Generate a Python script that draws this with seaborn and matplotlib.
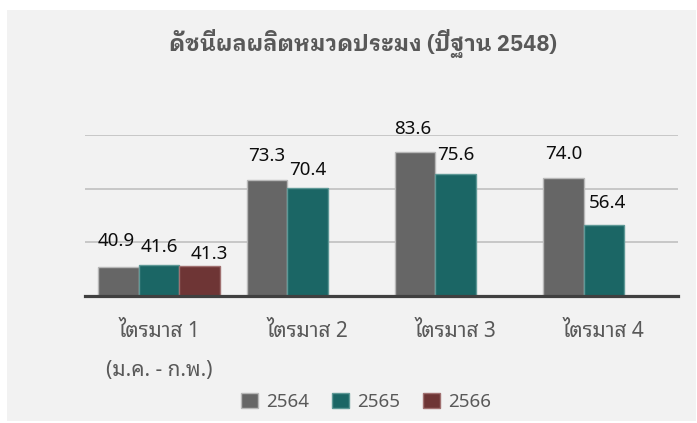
import matplotlib
matplotlib.use("Agg")
import matplotlib.pyplot as plt
from matplotlib.patches import Rectangle
import seaborn as sns
import pandas as pd
import numpy as np

# ---- data ----
quarters = ["ไตรมาส 1", "ไตรมาส 2", "ไตรมาส 3", "ไตรมาส 4"]
q1_note = "(ม.ค. - ก.พ.)"
years = ["2564", "2565", "2566"]
v2564 = [40.9, 73.3, 83.6, 74.0]
v2565 = [41.6, 70.4, 75.6, 56.4]
v2566 = [41.3, None, None, None]
title = "ดัชนีผลผลิตหมวดประมง (ปีฐาน 2548)"

# ---- style ----
colors = {"2564": "#666666", "2565": "#1b6665", "2566": "#6e3535"}
edge_colors = {"2564": "#b8b8b8", "2565": "#5e9896", "2566": "#a07070"}
# label offsets (pixels) relative to the top-center of each bar
label_offsets = {
    ("2564", 0): (-2, 26), ("2565", 0): (0, 18), ("2566", 0): (10, 12),
    ("2564", 1): (0, 24), ("2565", 1): (0, 18),
    ("2564", 2): (-2, 23), ("2565", 2): (0, 19),
    ("2564", 3): (0, 24), ("2565", 3): (4, 22),
}

rows = []
for y, vals in zip(years, [v2564, v2565, v2566]):
    for q, v in zip(quarters, vals):
        rows.append({"quarter": q, "year": y, "value": np.nan if v is None else v})
df = pd.DataFrame(rows)

sns.set_theme(style="white")
plt.rcParams["font.family"] = ["Noto Sans Thai Looped", "Noto Sans", "DejaVu Sans"]

W, H = 697, 423
fig = plt.figure(figsize=(W / 100, H / 100), dpi=100, facecolor="white")
fig.patches.append(Rectangle((7 / W, 1 - 421 / H), (696 - 7) / W, (421 - 10) / H,
                             transform=fig.transFigure, facecolor="#f2f2f2",
                             edgecolor="none", zorder=-10))

ax = fig.add_axes([85 / W, 1 - 296 / H, (678 - 85) / W, (296 - 135) / H])
ax.set_facecolor("none")

sns.barplot(data=df, x="quarter", y="value", hue="year", order=quarters,
            hue_order=years, palette=colors, saturation=1, width=0.82, ax=ax,
            linewidth=1.0, zorder=3)

for cont, yr in zip(ax.containers, years):
    for bar in cont:
        if np.isnan(bar.get_height()):
            continue
        bar.set_edgecolor(edge_colors[yr])
        bar.set_zorder(3)

ax.set_ylim(30, 90)
ax.set_yticks([30, 50, 70, 90])
ax.set_yticklabels([])
ax.yaxis.grid(True, color="#c4c4c4", linewidth=1.3, zorder=0)
ax.set_axisbelow(True)
for s in ["left", "right", "top"]:
    ax.spines[s].set_visible(False)
ax.spines["bottom"].set_color("#404040")
ax.spines["bottom"].set_linewidth(2.3)
ax.spines["bottom"].set_zorder(5)
ax.tick_params(axis="both", length=0)
ax.tick_params(axis="x", pad=18, labelsize=15, labelcolor="#595959")
ax.set_xlabel("")
ax.set_ylabel("")

# data labels
for cont, yr in zip(ax.containers, years):
    for bar in cont:
        h = bar.get_height()
        if np.isnan(h):
            continue
        xc = bar.get_x() + bar.get_width() / 2
        qi = int(round(xc))
        dx, dy = label_offsets.get((yr, qi), (0, 22))
        ax.annotate(f"{h:.1f}", (xc, h), xytext=(dx, dy), textcoords="offset pixels",
                    ha="center", va="center", fontsize=13.5, color="#0d0d0d")

# second line under quarter 1
ax.text(0, -0.46, q1_note, transform=ax.get_xaxis_transform(), ha="center",
        va="center", fontsize=15, color="#595959")

# legend
handles, labels = ax.get_legend_handles_labels()
ax.get_legend().remove()
leg = fig.legend(handles, labels, loc="center", bbox_to_anchor=(366 / W, 1 - 402 / H),
                 ncol=3, frameon=False, handlelength=0.9, handleheight=0.9,
                 handletextpad=0.45, columnspacing=1.2, fontsize=13.5)
for t in leg.get_texts():
    t.set_color("#595959")
for h, yr in zip(leg.legend_handles, years):
    h.set_edgecolor(edge_colors[yr])

fig.text(363 / W, 1 - 43 / H, title, ha="center", va="center", fontsize=15.8,
         fontweight="bold", color="#595959",
         family=["IBM Plex Sans Thai Looped", "Noto Sans Thai Looped", "DejaVu Sans"])

fig.savefig("out.png", dpi=100, facecolor="white")
